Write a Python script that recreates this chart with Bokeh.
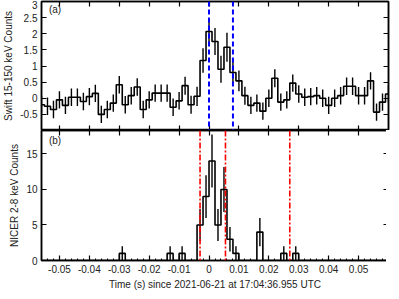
from bokeh.plotting import figure
from bokeh.layouts import column
from bokeh.models import Range1d, LinearAxis, FixedTicker, Label, Span
from bokeh.embed import file_html
from bokeh.resources import INLINE

# ---------------- data ----------------
# Swift/BAT 15-150 keV light curve, 2 ms bins (bin centres, s)
swift_time = [-0.056, -0.054, -0.052, -0.050, -0.048, -0.046, -0.044, -0.042, -0.040, -0.038,
              -0.036, -0.034, -0.032, -0.030, -0.028, -0.026, -0.024, -0.022, -0.020, -0.018,
              -0.016, -0.014, -0.012, -0.010, -0.008, -0.006, -0.004, -0.002, 0.000, 0.002,
              0.004, 0.006, 0.008, 0.010, 0.012, 0.014, 0.016, 0.018, 0.020, 0.022,
              0.024, 0.026, 0.028, 0.030, 0.032, 0.034, 0.036, 0.038, 0.040, 0.042,
              0.044, 0.046, 0.048, 0.050, 0.052, 0.054, 0.056, 0.058, 0.060]
swift_counts = [-0.20, -0.25, -0.35, -0.05, -0.22, 0.03, 0.03, -0.10, 0.05, 0.15,
                -0.50, -0.35, -0.15, 0.42, -0.20, 0.08, 0.35, -0.35, -0.05, 0.16,
                0.16, 0.16, -0.28, -0.08, 0.39, -0.20, 0.06, 1.17, 2.07, 1.76,
                0.90, 1.58, 0.80, 0.54, 0.08, -0.22, -0.15, -0.40, 0.00, 0.62,
                -0.12, -0.05, 0.47, 0.13, 0.03, 0.05, 0.08, 0.00, -0.22, 0.00,
                0.08, 0.37, 0.37, 0.08, 0.08, 0.54, -0.43, -0.12, 0.13]
swift_err = [0.27, 0.27, 0.27, 0.27, 0.27, 0.27, 0.27, 0.27, 0.27, 0.27,
             0.27, 0.27, 0.27, 0.27, 0.27, 0.27, 0.27, 0.27, 0.27, 0.27,
             0.27, 0.27, 0.27, 0.27, 0.28, 0.28, 0.30, 0.38, 0.38, 0.42,
             0.42, 0.45, 0.35, 0.32, 0.28, 0.27, 0.27, 0.27, 0.27, 0.28,
             0.27, 0.27, 0.27, 0.27, 0.27, 0.27, 0.27, 0.27, 0.27, 0.27,
             0.27, 0.27, 0.27, 0.27, 0.27, 0.27, 0.27, 0.27, 0.27]

# NICER 2-8 keV light curve, 2 ms bins (bin centres, s)
nicer_time = [-0.055, -0.053, -0.051, -0.049, -0.047, -0.045, -0.043, -0.041, -0.039, -0.037,
              -0.035, -0.033, -0.031, -0.029, -0.027, -0.025, -0.023, -0.021, -0.019, -0.017,
              -0.015, -0.013, -0.011, -0.009, -0.007, -0.005, -0.003, -0.001, 0.001, 0.003,
              0.005, 0.007, 0.009, 0.011, 0.013, 0.015, 0.017, 0.019, 0.021, 0.023,
              0.025, 0.027, 0.029, 0.031, 0.033, 0.035, 0.037, 0.039, 0.041, 0.043,
              0.045, 0.047, 0.049, 0.051, 0.053, 0.055, 0.057, 0.059]
nicer_counts = [0, 0, 0, 0, 0, 0, 0, 0, 0, 0,
                0, 0, 0, 1, 0, 0, 0, 0, 0, 0,
                0, 1, 0, 1, 0, 0, 5, 9, 14, 5,
                10, 3, 1, 0, 0, 0, 4, 0, 0, 0,
                1, 0, 1, 0, 0, 0, 0, 0, 0, 0,
                0, 0, 0, 0, 0, 0, 0, 0]
nicer_err = [0, 0, 0, 0, 0, 0, 0, 0, 0, 0,
             0, 0, 0, 1, 0, 0, 0, 0, 0, 0,
             0, 1, 0, 1, 0, 0, 2.24, 3, 3.74, 2.24,
             3.16, 1.73, 1, 0, 0, 0, 2, 0, 0, 0,
             1, 0, 1, 0, 0, 0, 0, 0, 0, 0,
             0, 0, 0, 0, 0, 0, 0, 0]

swift_markers = [0.0, 0.008]            # blue dashed lines
nicer_markers = [-0.003, 0.0055, 0.027]  # red dash-dot lines

x_ticks = [-0.05, -0.04, -0.03, -0.02, -0.01, 0.0, 0.01, 0.02, 0.03, 0.04, 0.05]
x_tick_labels = ["-0.05", "-0.04", "-0.03", "-0.02", "-0.01", "0", "0.01", "0.02", "0.03", "0.04", "0.05"]
swift_yticks = [-0.5, 0, 0.5, 1, 1.5, 2, 2.5, 3]
swift_ytick_labels = ["-0.5", "0", "0.5", "1", "1.5", "2", "2.5", "3"]
nicer_yticks = [0, 5, 10, 15]
nicer_ytick_labels = ["0", "5", "10", "15"]

FONT = "Liberation Sans"
FS = "10px"


def step_arrays(centres, values):
    half = (centres[1] - centres[0]) / 2.0
    edges = [c - half for c in centres] + [centres[-1] + half]
    vals = list(values) + [values[-1]]
    return edges, vals


def make_axis(ticks, labels, show, title=None, minor=None):
    tk = FixedTicker(ticks=ticks, minor_ticks=minor or [])
    ax = LinearAxis(ticker=tk)
    ax.major_tick_in = 5
    ax.major_tick_out = 0
    ax.minor_tick_in = 2 if minor else 0
    ax.minor_tick_out = 0
    ax.axis_line_color = "black"
    ax.axis_line_width = 1.5
    ax.major_tick_line_width = 1.2
    ax.minor_tick_line_width = 1
    if show:
        ax.major_label_overrides = {t: l for t, l in zip(ticks, labels)}
        ax.major_label_text_font = FONT
        ax.major_label_text_font_size = FS
        ax.major_label_text_color = "#222222"
        ax.major_label_standoff = 4
    else:
        ax.major_label_overrides = {t: "" for t in ticks}
        ax.major_label_text_font_size = "0px"
        ax.major_label_standoff = 0
    if title:
        ax.axis_label = title
        ax.axis_label_text_font = FONT
        ax.axis_label_text_font_size = FS
        ax.axis_label_text_font_style = "normal"
        ax.axis_label_text_color = "#222222"
        ax.axis_label_standoff = 3
    return ax


xr = Range1d(-0.056, 0.060)

common = dict(frame_width=347, x_range=xr, x_axis_location=None, y_axis_location=None,
              output_backend="svg", toolbar_location=None,
              min_border_left=36, min_border_right=3,
              outline_line_color="black", outline_line_width=1.5)

# ---------------- top panel ----------------
top = figure(frame_height=129, y_range=Range1d(-1, 3), min_border_top=1, min_border_bottom=0, **common)
top.grid.visible = False
top.add_layout(make_axis(swift_yticks, swift_ytick_labels, True, "Swift 15-150 keV Counts"), "left")
top.add_layout(make_axis(swift_yticks, swift_ytick_labels, False), "right")
top.add_layout(make_axis(x_ticks, x_tick_labels, False), "above")
top.add_layout(make_axis(x_ticks, x_tick_labels, False), "below")

se, sv = step_arrays(swift_time, swift_counts)
top.step(x=se, y=sv, mode="after", line_color="black", line_width=1.6)
top.segment(x0=swift_time, y0=[v - e for v, e in zip(swift_counts, swift_err)],
            x1=swift_time, y1=[v + e for v, e in zip(swift_counts, swift_err)],
            line_color="black", line_width=1.4)
for m in swift_markers:
    top.add_layout(Span(location=m, dimension="height", line_color="blue",
                        line_dash="5 3", line_width=2))
top.add_layout(Label(x=-0.0535, y=2.93, text="(a)", text_font=FONT, text_font_size=FS,
                     text_baseline="top", text_color="#222222"))

# ---------------- bottom panel ----------------
minor_x = [round(-0.056 + 0.002 * k, 3) for k in range(59)]
bot = figure(frame_height=130, y_range=Range1d(0, 18.3), min_border_top=0, min_border_bottom=0, **common)
bot.grid.visible = False
bot.add_layout(make_axis(nicer_yticks, nicer_ytick_labels, True, "NICER 2-8 keV Counts"), "left")
bot.add_layout(make_axis(nicer_yticks, nicer_ytick_labels, False), "right")
bot.add_layout(make_axis(x_ticks, x_tick_labels, False), "above")
bot.add_layout(make_axis(x_ticks, x_tick_labels, True,
                         "Time (s) since 2021-06-21 at 17:04:36.955 UTC", minor=minor_x), "below")

ne, nv = step_arrays(nicer_time, nicer_counts)
bot.step(x=ne, y=nv, mode="after", line_color="black", line_width=1.6)
nt = [t for t, c in zip(nicer_time, nicer_counts) if c > 0]
nc = [c for c in nicer_counts if c > 0]
nerr = [e for e, c in zip(nicer_err, nicer_counts) if c > 0]
bot.segment(x0=nt, y0=[c - e for c, e in zip(nc, nerr)], x1=nt, y1=[c + e for c, e in zip(nc, nerr)],
            line_color="black", line_width=1.4)
for m in nicer_markers:
    bot.add_layout(Span(location=m, dimension="height", line_color="red",
                        line_dash="6 2 2 2", line_width=1.6))
bot.add_layout(Label(x=-0.0535, y=17.6, text="(b)", text_font=FONT, text_font_size=FS,
                     text_baseline="top", text_color="#222222"))

layout = column(top, bot, spacing=0)

open("out.html", "w").write(file_html(layout, INLINE))
